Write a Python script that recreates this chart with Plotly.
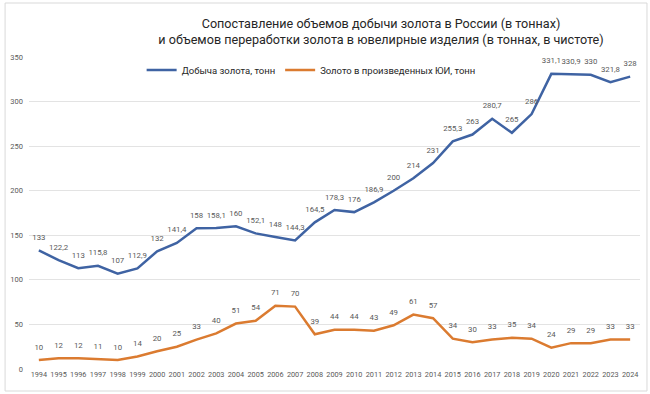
import plotly.graph_objects as go

years = list(range(1994, 2025))
mining = [133, 122.2, 113, 115.8, 107, 112.9, 132, 141.4, 158, 158.1, 160, 152.1, 148, 144.3,
          164.5, 178.3, 176, 186.9, 200, 214, 231, 255.3, 263, 280.7, 265, 286, 331.1, 330.9,
          330, 321.8, 328]
jewelry = [10, 12, 12, 11, 10, 14, 20, 25, 33, 40, 51, 54, 71, 70, 39, 44, 44, 43, 49, 61, 57,
           34, 30, 33, 35, 34, 24, 29, 29, 33, 33]
name_mining = "Добыча золота, тонн"
name_jewelry = "Золото в произведенных ЮИ, тонн"
title_text = ("Сопоставление объемов добычи золота в России (в тоннах)<br>"
              "и объемов переработки золота в ювелирные изделия (в тоннах, в чистоте)")

def fmt(v):
    return f"{v:g}".replace(".", ",")

blue = "#3F63A3"
orange = "#DB7B30"
FONT = "Roboto"

fig = go.Figure()
for name, vals, col in [(name_mining, mining, blue), (name_jewelry, jewelry, orange)]:
    fig.add_trace(go.Scatter(
        x=years, y=vals, mode="lines+markers+text", name=name,
        line=dict(color=col, width=2.5),
        marker=dict(size=12, color="rgba(0,0,0,0)", line=dict(width=0)),
        text=[fmt(v) for v in vals], textposition="top center",
        textfont=dict(size=7.8, color="#595959", family=FONT),
    ))

L, R, T, B = 27, 10, 57, 25
W, H = 650, 394
pw, ph = W - L - R, H - T - B

def px(x):
    return (x - L) / pw

def py(y):
    return (H - B - y) / ph

fig.update_layout(
    width=W, height=H,
    margin=dict(l=L, r=R, t=T, b=B),
    paper_bgcolor="white", plot_bgcolor="white",
    font=dict(family=FONT, color="#595959"),
    title=dict(text=title_text, x=381 / W, xanchor="center", y=1 - 28 / H, yanchor="middle",
               font=dict(size=12.6, color="#262626", family=FONT)),
    showlegend=True,
    legend=dict(orientation="h", x=px(140), xanchor="left", y=py(70), yanchor="middle",
                font=dict(size=9.5, color="#262626", family=FONT), bgcolor="rgba(0,0,0,0)",
                tracegroupgap=0),
    xaxis=dict(range=[1993.5, 2024.5], tickmode="array", tickvals=years,
               ticktext=[str(y) for y in years], tickfont=dict(size=7.3, color="#595959"),
               tickangle=0, showgrid=False, zeroline=False, showline=False, ticks=""),
    yaxis=dict(range=[0, 350], tickvals=[0, 50, 100, 150, 200, 250, 300, 350],
               tickfont=dict(size=7.5, color="#595959"), gridcolor="#E3E3E3", gridwidth=1,
               zeroline=False, showline=False, ticks="", ticklabelstandoff=5),
)
fig.add_shape(type="rect", xref="paper", yref="paper",
              x0=px(3), x1=px(647), y0=py(391), y1=py(3),
              line=dict(color="#D9D9D9", width=1), layer="below")
fig.write_html("out.html", config={"displayModeBar": False},
               post_script="document.body.style.margin='0';document.body.style.overflow='hidden';")
